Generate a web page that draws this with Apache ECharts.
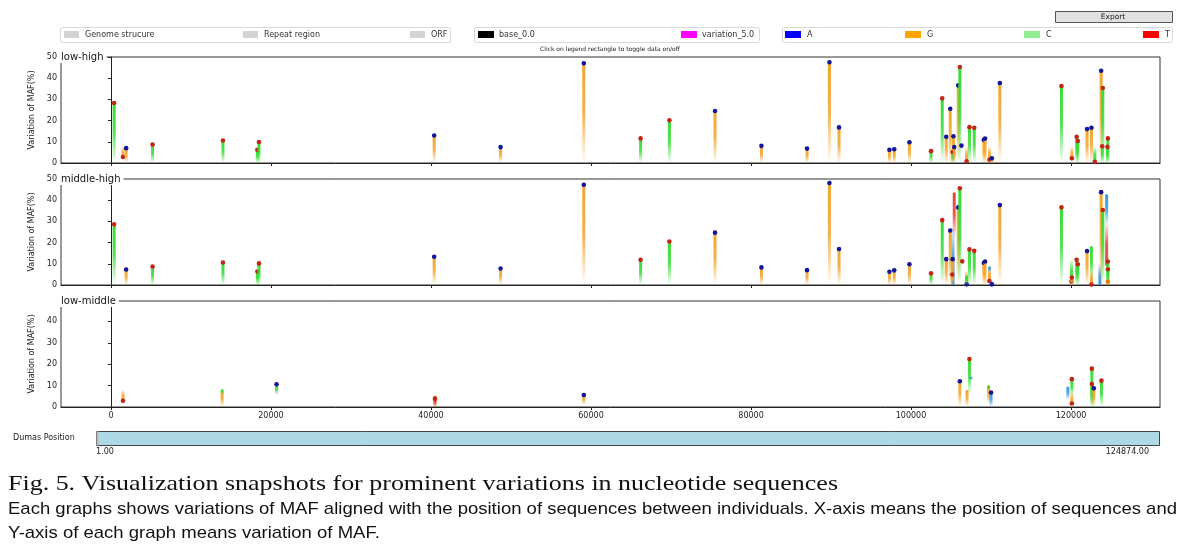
<!DOCTYPE html>
<html><head><meta charset="utf-8">
<script src="https://cdn.jsdelivr.net/npm/echarts@6/dist/echarts.min.js"></script>
<style>html,body{margin:0;padding:0;background:#fff}#c{width:1195px;height:548px}</style>
</head><body><div id="c"></div>
<script>
// ---------------- DATA ----------------
const panelTitles = ['low-high', 'middle-high', 'low-middle'];
const xTickValues = [0, 20000, 40000, 60000, 80000, 100000, 120000];
const positionRange = [1, 124874];
const yTicksHigh = [0, 10, 20, 30, 40, 50];
const yTicksLow = [0, 10, 20, 30, 40];
const legendStructure = ['Genome strucure', 'Repeat region', 'ORF'];
const legendThreshold = ['base_0.0', 'variation_5.0'];
const legendBases = ['A', 'G', 'C', 'T'];

// panel 1: low-high
const lhPos  = [400,1500,1900,5200,14000,18300,18500,40400,48700,59100,66200,69800,75500,81300,87000,89800,91000,97300,97900,99800,102500,103900,104400,104900,105300,105200,105400,105900,106100,106300,106950,107300,107900,109100,109250,109800,110100,111100,118800,120100,120700,120850,122000,122550,122970,123760,123970,123900,124600,124550];
const lhFrom = [0,8.0,0,0,0,0,0,0,0,0,0,0,0,0,0,0,0,0,0,0,0,0,0,0,0,0,0,0,0,7.0,7.8,0,0,0,0,8.0,0,0,0,7.8,0,0,0,0,7.8,0,0,0,0,0];
const lhTo   = [28.3,2.8,7.0,8.7,10.6,6.2,9.9,13.0,7.5,47.0,11.6,20.2,24.5,8.1,6.8,47.5,16.8,6.2,6.5,9.8,5.6,30.5,12.4,25.6,12.6,5.2,7.5,36.6,45.3,8.2,0.8,16.9,16.6,10.9,11.5,1.5,2.2,37.7,36.3,2.2,12.4,10.4,16.0,16.6,0.6,43.5,35.4,7.9,11.6,7.6];
const lhBase = ['C','G','G','C','C','C','C','G','G','G','C','C','G','G','G','G','G','G','G','G','C','C','G','G','G','C','G','G','C','A','G','C','C','G','G','G','G','G','C','G','C','C','G','G','C','G','C','C','C','C'];
const lhDot  = ['T','T','A','T','T','T','T','A','A','A','T','T','A','A','A','A','A','A','A','A','T','T','A','A','A','T','A','A','T','A','T','T','T','A','A','T','A','A','T','T','T','T','A','A','T','A','T','T','T','T'];

// panel 2: middle-high
const mhPos  = [400,1900,5200,14000,18300,18500,40400,48700,59100,66200,69800,75500,81300,87000,89800,91000,97300,97900,99800,102500,103900,104400,104900,105400,105250,105200,105150,105900,106100,106400,106950,106950,107300,107900,109100,109250,109800,109800,110100,111100,118800,120050,120100,120700,120850,122000,122550,122550,123600,123760,123970,124450,124450,124600,124600,124600];
const mhFrom = [0,0,0,0,0,0,0,0,0,0,0,0,0,0,0,0,0,0,0,0,0,0,0,22,28,0,0,0,0,9.5,7.0,0,0,0,0,0,8.9,6.0,2.0,0,0,12.3,0,0,0,0,2,7,10,0,0,28,30,0,0,0];
const mhTo   = [28.6,7.3,8.75,10.6,6.4,10.2,13.3,7.8,47.3,11.9,20.5,24.7,8.3,7.0,48.1,17.0,6.25,6.9,9.8,5.5,30.6,12.2,25.7,43.7,0,12.2,4.9,36.6,45.6,11.2,0.3,4.5,16.8,16.1,10.4,11.1,1.9,8.9,0.3,37.7,36.6,1.6,3.5,11.9,9.8,16.0,18.4,0.2,0,43.8,35.4,42.9,9,11.1,7.4,1.6];
const mhBase = ['C','G','C','C','C','C','G','G','G','C','C','G','G','G','G','G','G','G','G','C','C','G','G','T','A','G','G','G','C','G','G','C','C','C','G','G','G','A','A','G','C','C','G','C','C','G','C','G','A','G','C','A','T','C','C','G'];
const mhDot  = ['T','A','T','T','T','T','A','A','A','T','T','A','A','A','A','A','A','A','A','T','T','A','A','','','A','T','A','T','T','A','','T','T','A','A','T','','A','A','T','T','T','T','T','A','','T','','A','T','','','T','T','G'];

// panel 3: low-middle
const lmPos  = [1500,13900,13900,20700,40500,40500,59100,106100,107000,107300,107500,109700,109700,110000,119600,120100,120100,122600,122600,122850,123800];
const lmFrom = [8.1,0,6,5.7,0,0,1,0,0,6,12.5,1.5,8,0,3.4,5,7,0,0,0,0];
const lmTo   = [2.9,7.5,8.4,10.6,5.4,3.9,5.6,12.0,8,22.4,14.2,10.1,10.1,6.8,9.6,13.0,1.6,17.9,10.7,8.7,12.3];
const lmBase = ['G','G','C','C','G','T','G','G','G','C','A','G','C','A','A','C','G','C','C','G','C'];
const lmDot  = ['T','','','A','','T','A','A','','T','','','','A','','T','T','T','T','A','T'];

// ---------------- STYLE ----------------
const baseColor = {A:'#3b98d8', G:'#f3a42a', C:'#34dc34', T:'#e6403a'};
const dotColor = {A:'#15159c', T:'#c22616', G:'#e07b00'};
const legendColors = {A:'#0000ff', G:'#ffa500', C:'#90ee90', T:'#ff0000'};
const FONT = 'DejaVu Sans';

function rgba(hex, a) {
  const n = parseInt(hex.slice(1), 16);
  return 'rgba(' + (n >> 16 & 255) + ',' + (n >> 8 & 255) + ',' + (n & 255) + ',' + a + ')';
}

const pad = (positionRange[1] - positionRange[0]) * 0.05;
const xMin = positionRange[0] - pad, xMax = positionRange[1] + pad;

const grids = [
  {left: 61, right: 35, top: 57, height: 106},
  {left: 61, right: 35, top: 179, height: 106},
  {left: 61, right: 35, top: 301, height: 106}
];

function makeSeries(idx, pos, from, to, base, dot) {
  return {
    type: 'custom', xAxisIndex: idx, yAxisIndex: idx,
    data: pos.map((p, i) => [p, from[i], to[i]]),
    encode: {x: 0, y: [1, 2]},
    renderItem: (params, api) => {
      const i = params.dataIndex;
      const pTo = api.coord([api.value(0), api.value(2)]);
      const pFrom = api.coord([api.value(0), api.value(1)]);
      const c = baseColor[base[i]];
      const up = pTo[1] < pFrom[1];
      const y0 = Math.min(pTo[1], pFrom[1]);
      const h = Math.max(Math.abs(pTo[1] - pFrom[1]), 1);
      const grad = {type: 'linear', x: 0, y: up ? 0 : 1, x2: 0, y2: up ? 1 : 0,
        colorStops: [{offset: 0, color: rgba(c, 1)}, {offset: 0.5, color: rgba(c, 0.85)}, {offset: 1, color: rgba(c, 0)}]};
      const children = [{type: 'rect', shape: {x: pTo[0] - 1.5, y: y0, width: 3, height: h, r: 1.5}, style: {fill: grad}}];
      if (dot[i]) children.push({type: 'circle', shape: {cx: pTo[0], cy: pTo[1], r: 2.3}, style: {fill: dotColor[dot[i]]}});
      return {type: 'group', children: children};
    }
  };
}

const xAxes = grids.map((g, i) => ({
  type: 'value', gridIndex: i, min: xMin, max: xMax,
  axisLine: {show: true, onZero: false, lineStyle: {color: '#222', width: 1}},
  splitLine: {show: false},
  axisTick: {show: true, length: 3, customValues: xTickValues, lineStyle: {color: '#222'}},
  axisLabel: {show: i === 2, customValues: xTickValues, formatter: v => String(v),
    fontSize: 8, fontFamily: FONT, color: '#222', margin: 5}
}));

const yAxes = grids.map((g, i) => {
  const ticks = i === 2 ? yTicksLow : yTicksHigh;
  return {
    type: 'value', gridIndex: i, min: 0, max: i === 2 ? 49.5 : 50,
    name: 'Variation of MAF(%)', nameLocation: 'middle', nameGap: 21, nameRotate: 90,
    nameTextStyle: {fontSize: 8, fontFamily: FONT, color: '#222'},
    axisLine: {show: true, lineStyle: {color: '#222', width: 1}},
    splitLine: {show: false},
    axisTick: {show: true, length: 3, customValues: ticks, lineStyle: {color: '#222'}},
    axisLabel: {customValues: ticks, formatter: v => String(v), fontSize: 8, fontFamily: FONT, color: '#222', margin: 4}
  };
});

// ---------------- GRAPHICS ----------------
const graphics = [];
function txt(x, y, s, size, opts) {
  opts = opts || {};
  graphics.push({type: 'text', x: x, y: y, z: 100, scaleX: opts.scaleX || 1,
    style: {text: s, x: 0, y: 0, font: (opts.style || '') + ' ' + size + 'px "' + (opts.family || FONT) + '"',
      fill: opts.fill || '#333', textAlign: opts.align || 'left', textVerticalAlign: 'middle',
      backgroundColor: opts.bg, padding: opts.pad}});
}
function rect(x, y, w, h, fill, stroke, r) {
  graphics.push({type: 'rect', z: 99, shape: {x: x, y: y, width: w, height: h, r: r || 0},
    style: {fill: fill, stroke: stroke || null, lineWidth: 1}});
}

// Export button
rect(1055.5, 11.5, 117, 11, '#e1e1e1', '#555');
txt(1113, 17, 'Export', 7.5, {align: 'center', fill: '#222'});

// legend boxes
rect(60.5, 27.5, 390, 15, '#fff', '#d8d8d8', 2);
rect(474.5, 27.5, 285, 15, '#fff', '#d8d8d8', 2);
rect(782.5, 27.5, 390, 15, '#fff', '#d8d8d8', 2);
const structX = [64, 243, 410];
legendStructure.forEach((s, i) => { rect(structX[i], 31, 15, 7, '#d3d3d3'); txt(structX[i] + 21, 35, s, 8); });
const threshX = [478, 681], threshC = ['#000000', '#ff00ff'];
legendThreshold.forEach((s, i) => { rect(threshX[i], 31, 16, 7, threshC[i]); txt(threshX[i] + 21, 35, s, 8); });
const baseX = [785, 905, 1024, 1143];
legendBases.forEach((s, i) => { rect(baseX[i], 31, 16, 7, legendColors[s]); txt(baseX[i] + 22, 35, s, 8); });
txt(610, 49, 'Click on legend rectangle to toggle data on/off', 6, {align: 'center', fill: '#222'});

// panel titles
grids.forEach((g, i) => txt(g.left - 1, g.top, panelTitles[i], 10, {fill: '#111', bg: '#fff', pad: [1, 3, 1, 1]}));

// position slider
txt(13, 438, 'Dumas Position', 8, {fill: '#222'});
rect(96.5, 431.5, 1063, 14, '#add8e6', '#444');
rect(96.5, 431.5, 2, 14, '#bbbbbb');
txt(96, 452, positionRange[0].toFixed(2), 8, {fill: '#222'});
txt(1149, 452, positionRange[1].toFixed(2), 8, {fill: '#222', align: 'right'});

// caption (fit widths of the reference text)
const cv = document.createElement('canvas').getContext('2d');
function fitScale(s, font, target) { cv.font = font; return target / cv.measureText(s).width; }
const cap1 = 'Fig. 5. Visualization snapshots for prominent variations in nucleotide sequences';
const cap2 = 'Each graphs shows variations of MAF aligned with the position of sequences between individuals. X-axis means the position of sequences and';
const cap3 = 'Y-axis of each graph means variation of MAF.';
const s1 = fitScale(cap1, '22px "Liberation Serif"', 830);
const s2 = fitScale(cap2, '17px "Liberation Sans"', 1169);
txt(8, 484, cap1, 22, {family: 'Liberation Serif', fill: '#111', scaleX: s1});
txt(8, 509, cap2, 17, {family: 'Liberation Sans', fill: '#111', scaleX: s2});
txt(8, 533, cap3, 17, {family: 'Liberation Sans', fill: '#111', scaleX: s2});

const chart = echarts.init(document.getElementById('c'), null, {renderer: 'canvas'});
chart.setOption({
  animation: false,
  backgroundColor: '#fff',
  grid: grids.map(g => Object.assign({show: true, borderColor: '#333', borderWidth: 1, backgroundColor: 'transparent'}, g)),
  xAxis: xAxes,
  yAxis: yAxes,
  series: [
    makeSeries(0, lhPos, lhFrom, lhTo, lhBase, lhDot),
    makeSeries(1, mhPos, mhFrom, mhTo, mhBase, mhDot),
    makeSeries(2, lmPos, lmFrom, lmTo, lmBase, lmDot)
  ],
  graphic: graphics
});
</script></body></html>
